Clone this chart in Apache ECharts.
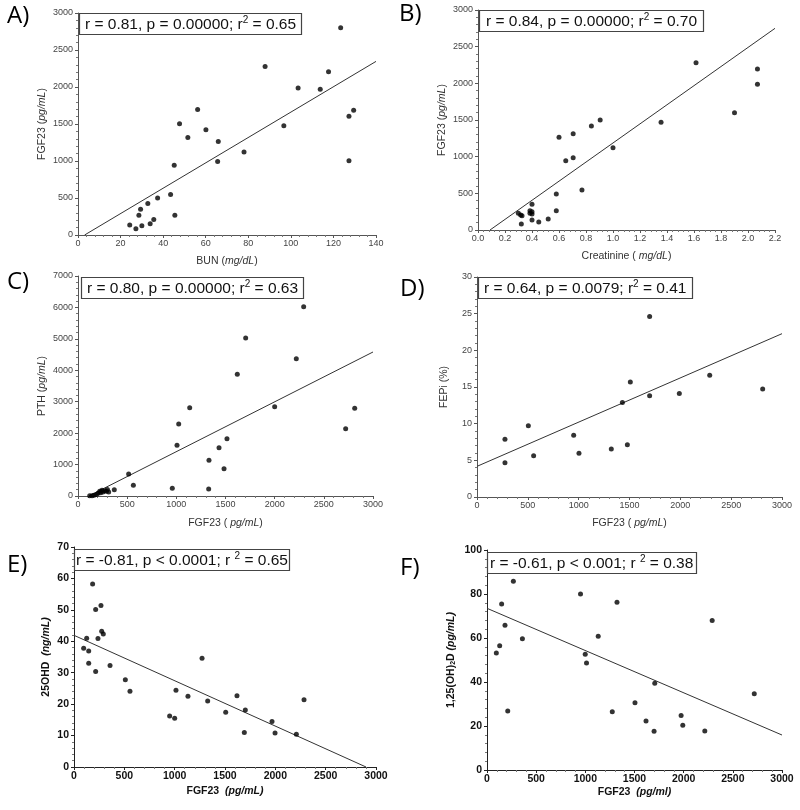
<!DOCTYPE html>
<html><head><meta charset="utf-8">
<script src="https://cdn.jsdelivr.net/npm/echarts@6/dist/echarts.min.js"></script>
<style>html,body{margin:0;padding:0;background:#fff}#c{width:800px;height:810px}</style>
</head><body><div id="c"></div><script>
// ---- data ----
var aX = [24.3,27.2,28.6,29.4,30.0,32.8,33.9,35.6,37.4,43.5,45.2,45.5,47.7,51.6,56.2,60.1,65.6,65.9,78.0,87.9,96.7,103.4,113.8,117.7,123.4,127.3,127.3,129.5];
var aY = [135,86,266,347,126,424,153,208,501,546,943,266,1502,1317,1696,1421,992,1263,1123,2278,1475,1985,1971,2206,2801,1606,1002,1687];
var aLine = [[3.1,0],[140,2346]];

var bX = [0.299,0.316,0.326,0.321,0.40,0.385,0.40,0.385,0.40,0.40,0.45,0.52,0.58,0.58,0.60,0.65,0.705,0.705,0.77,0.84,0.905,1.00,1.356,1.615,1.90,2.07,2.07];
var bY = [228,205,195,82,350,264,250,228,218,136,109,150,491,264,1264,945,986,1314,545,1418,1500,1123,1468,2282,1600,2195,1986];
var bLine = [[0.089,0],[2.2,2750]];

var cX = [119,143,163,187,204,221,231,244,254,272,289,299,312,369,515,563,959,1007,1024,1136,1329,1332,1434,1485,1515,1620,1705,2000,2220,2295,2722,2814];
var cY = [10,10,20,45,85,150,107,180,127,170,150,204,127,202,700,339,244,1612,2291,2811,223,1135,1538,870,1824,3871,5027,2842,4370,6024,2142,2789];
var cLine = [[110,0],[3000,4582]];

var dX = [275,275,505,557,951,1003,1321,1430,1479,1508,1698,1698,1990,2289,2810];
var dY = [7.86,4.68,9.73,5.64,8.41,5.95,6.55,12.9,7.14,15.68,24.6,13.8,14.1,16.6,14.73];
var dLine = [[0,4.18],[3000,22.27]];

var eX = [96,126,146,146,185,215,215,238,268,275,291,358,510,556,950,1000,1013,1132,1272,1328,1507,1619,1692,1702,1967,1997,2209,2285];
var eY = [37.8,41.0,36.9,33.0,58.2,50.1,30.4,40.9,51.4,43.2,42.3,32.3,27.8,24.1,16.2,15.5,24.4,22.5,34.6,21.0,17.4,22.7,11.0,18.1,14.5,10.8,10.4,21.4];
var eLine = [[0,41.9],[2901,0]];

var fX = [95,129,149,183,211,268,360,951,999,1012,1131,1274,1322,1505,1617,1699,1706,1974,1991,2215,2290,2718];
var fY = [53.2,56.5,75.5,65.8,26.8,85.8,59.7,80.0,52.6,48.6,60.8,26.5,76.2,30.6,22.3,17.6,39.4,24.8,20.3,17.7,67.9,34.7];
var fLine = [[0,73.5],[3000,15.9]];

var panelLabels = ['A)','B)','C)','D)','E)','F)'];
var statTexts = [
  'r = 0.81, p = 0.00000; r{sup|2} = 0.65',
  'r = 0.84, p = 0.00000; r{sup|2} = 0.70',
  'r = 0.80, p = 0.00000; r{sup|2} = 0.63',
  'r = 0.64, p = 0.0079; r{sup|2} = 0.41',
  'r = -0.81, p < 0.0001; r {sup|2} = 0.65',
  'r = -0.61, p < 0.001; r {sup|2} = 0.38'
];
var xNames = ['BUN ({i|mg/dL})','Creatinine ( {i|mg/dL})','FGF23 ( {i|pg/mL})','FGF23 ( {i|pg/mL})','FGF23  {i|(pg/mL)}','FGF23  {i|(pg/ml)}'];
var yNames = ['FGF23 ({i|pg/mL})','FGF23 ({i|pg/mL})','PTH ({i|pg/mL})','FEPi (%)','25OHD  {i|(ng/mL)}','1,25(OH){sub|2}D {i|(pg/mL)}'];

// ---- layout ----
var panels = [
  {xs:aX, ys:aY, line:aLine, grid:{left:78,top:13,width:298,height:222}, x:[0,140,20], y:[0,3000,500], bold:false, xGap:21, yGap:30, lab:[7,4], box:[79,13,6]},
  {xs:bX, ys:bY, line:bLine, grid:{left:478,top:10,width:297,height:220}, x:[0,2.2,0.2], y:[0,3000,500], bold:false, xGap:21, yGap:30, lab:[399,2], box:[479,10,7], dec:1},
  {xs:cX, ys:cY, line:cLine, grid:{left:78,top:276,width:295,height:220}, x:[0,3000,500], y:[0,7000,1000], bold:false, xGap:22, yGap:30, lab:[7,270], box:[81,277,6]},
  {xs:dX, ys:dY, line:dLine, grid:{left:477,top:277,width:305,height:220}, x:[0,3000,500], y:[0,30,5], bold:false, xGap:21, yGap:27, lab:[400,277], box:[478,277,6]},
  {xs:eX, ys:eY, line:eLine, grid:{left:74,top:547,width:302,height:220}, x:[0,3000,500], y:[0,70,10], bold:true, xGap:19, yGap:22, lab:[7,553], box:[74,549,2]},
  {xs:fX, ys:fY, line:fLine, grid:{left:487,top:550,width:295,height:220}, x:[0,3000,500], y:[0,100,20], bold:true, xGap:17, yGap:30, lab:[400,556], box:[487,552,3]}
];

var FONT = 'Liberation Sans';
var grids=[], xAxes=[], yAxes=[], series=[], titles=[];
panels.forEach(function(p, i){
  grids.push(p.grid);
  var col = p.bold ? '#111' : '#444';
  var fw = p.bold ? 'bold' : 'normal';
  var lblSize = p.bold ? 10.5 : 9;
  var nameSize = 10.5;
  function axis(rng, name, gap, isX){
    return {
      type:'value', gridIndex:i, min:rng[0], max:rng[1], interval:rng[2],
      name:name, nameLocation:'middle', nameGap:gap,
      nameTextStyle:{fontFamily:FONT, fontSize:nameSize, color:p.bold?'#111':'#333', fontWeight:fw,
        rich:{ i:{fontStyle:'italic', fontFamily:FONT, fontSize:nameSize, color:p.bold?'#111':'#333', fontWeight:fw},
               sub:{fontFamily:FONT, fontSize:7, color:'#111', fontWeight:fw, verticalAlign:'bottom'} }},
      axisLine:{show:true, onZero:false, lineStyle:{color:p.bold?'#222':'#555', width:1}},
      axisTick:{show:true, length:3, lineStyle:{color:p.bold?'#222':'#555'}},
      minorTick:{show:true, splitNumber:5, length:2, lineStyle:{color:'#777'}},
      splitLine:{show:false},
      axisLabel:{fontFamily:FONT, fontSize:lblSize, color:col, fontWeight:fw, margin:isX?4:5,
        formatter: (isX && p.dec) ? function(v){return Number(v).toFixed(p.dec);} : function(v){return String(Math.round(v*1000)/1000);}}
    };
  }
  xAxes.push(axis(p.x, xNames[i], p.xGap, true));
  yAxes.push(axis(p.y, yNames[i], p.yGap, false));
  series.push({type:'scatter', xAxisIndex:i, yAxisIndex:i, symbolSize:5, itemStyle:{color:'#000'}, silent:true,
    data:p.xs.map(function(x,k){return [x, p.ys[k]];})});
  series.push({type:'line', xAxisIndex:i, yAxisIndex:i, symbol:'none', silent:true, z:1,
    lineStyle:{color:'#333', width:1}, data:p.line});
  titles.push({text:panelLabels[i], left:p.lab[0], top:p.lab[1], padding:0,
    textStyle:{fontFamily:'Open Sans', fontSize:24, fontWeight:'normal', color:'#000'}});
  titles.push({text:statTexts[i], left:p.box[0], top:p.box[1], padding:[2,p.box[2],1,p.box[2]],
    borderColor:'#444', borderWidth:1.2, backgroundColor:'#fff', z:10,
    textStyle:{fontFamily:FONT, fontSize:15.5, fontWeight:'normal', color:'#111', lineHeight:19,
      rich:{sup:{fontFamily:FONT, fontSize:10, color:'#111', verticalAlign:'top', lineHeight:19}}}});
});

var chart = echarts.init(document.getElementById('c'), null, {renderer:'canvas'});
chart.setOption({animation:false, backgroundColor:'#fff', title:titles, grid:grids, xAxis:xAxes, yAxis:yAxes, series:series});
</script></body></html>
